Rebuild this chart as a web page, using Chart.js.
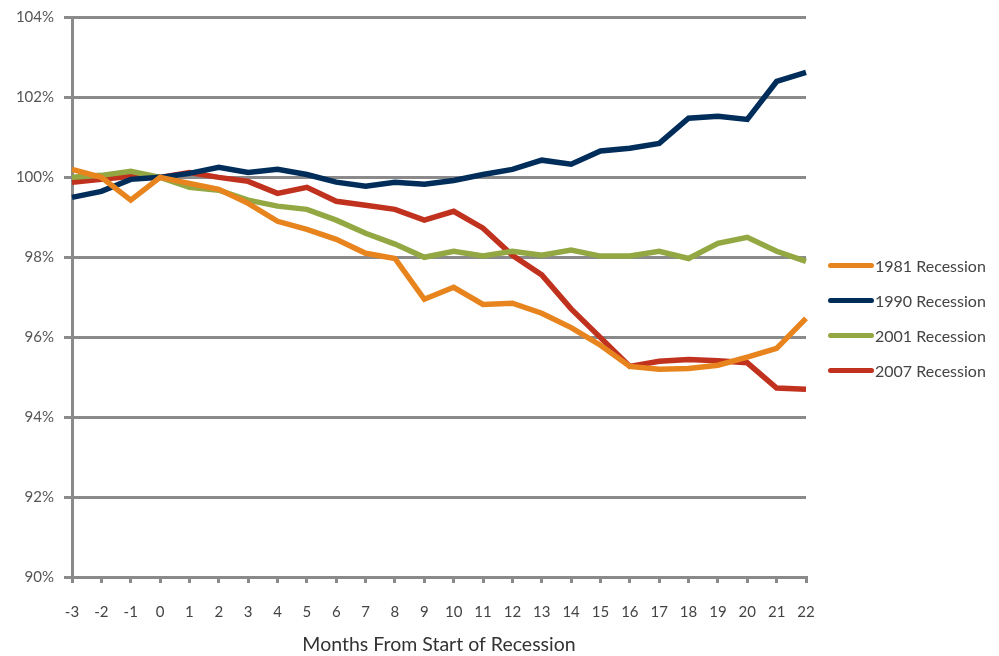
<!DOCTYPE html>
<html>
<head>
<meta charset="utf-8">
<script src="https://cdn.jsdelivr.net/npm/chart.js@4/dist/chart.umd.min.js"></script>
<style>
  html, body { margin: 0; padding: 0; background: #fff; }
  #wrap { position: relative; width: 999px; height: 656px; }
  #legend { position: absolute; left: 828px; top: 248px; font-family: Lato, sans-serif; font-size: 16px; color: #444; }
  .item { display: flex; align-items: center; height: 35px; }
  .swatch { width: 46px; height: 5px; border-radius: 3px; margin-right: 1px; }
</style>
</head>
<body>
<div id="wrap">
  <canvas id="chart" width="999" height="656"></canvas>
  <div id="legend"></div>
</div>
<script>
// months from start of recession
const months = ['-3', '-2', '-1', '0', '1', '2', '3', '4', '5', '6', '7', '8', '9', '10',
                '11', '12', '13', '14', '15', '16', '17', '18', '19', '20', '21', '22'];

const rec1981 = [100.2, 100.0, 99.43, 100.0, 99.85, 99.7, 99.35, 98.9, 98.7, 98.45, 98.1, 97.97, 96.95,
                 97.25, 96.82, 96.85, 96.6, 96.24, 95.8, 95.27, 95.2, 95.22, 95.3, 95.5, 95.72, 96.47];
const rec1990 = [99.5, 99.65, 99.95, 100.0, 100.1, 100.25, 100.12, 100.2, 100.07, 99.88, 99.78, 99.88, 99.83,
                 99.92, 100.07, 100.2, 100.43, 100.33, 100.66, 100.73, 100.85, 101.48, 101.53, 101.45, 102.4, 102.63];
const rec2001 = [100.0, 100.05, 100.15, 100.0, 99.75, 99.68, 99.43, 99.28, 99.2, 98.93, 98.6, 98.33, 98.0,
                 98.15, 98.03, 98.15, 98.05, 98.18, 98.03, 98.03, 98.15, 97.97, 98.35, 98.5, 98.15, 97.9];
const rec2007 = [99.88, 99.95, 100.03, 100.0, 100.12, 100.0, 99.9, 99.6, 99.75, 99.4, 99.3, 99.2, 98.93,
                 99.15, 98.73, 98.05, 97.56, 96.71, 95.99, 95.27, 95.4, 95.44, 95.41, 95.36, 94.73, 94.7];

const seriesNames = ['1981 Recession', '1990 Recession', '2001 Recession', '2007 Recession'];
const seriesColors = ['#E8841E', '#002D5A', '#93A843', '#C0311E'];
const seriesValues = [rec1981, rec1990, rec2001, rec2007];

const gridGray = '#8a8a8a';

const datasets = seriesNames.map((name, i) => ({
    label: name,
    data: seriesValues[i],
    borderColor: seriesColors[i],
    backgroundColor: seriesColors[i],
    borderWidth: 5.5,
    pointRadius: 0,
    tension: 0,
    fill: false
}));

// legend on the right
const legendBox = document.getElementById('legend');
seriesNames.forEach((name, i) => {
    const row = document.createElement('div');
    row.className = 'item';
    row.innerHTML = `<span class="swatch" style="background:${seriesColors[i]}"></span><span>${name}</span>`;
    legendBox.appendChild(row);
});

const ctx = document.getElementById('chart').getContext('2d');
new Chart(ctx, {
    type: 'line',
    data: { labels: months, datasets: datasets },
    options: {
        responsive: false,
        animation: false,
        layout: { padding: { top: 12, right: 193, left: 0, bottom: 0 } },
        plugins: {
            legend: { display: false },
            tooltip: { enabled: false }
        },
        scales: {
            x: {
                offset: false,
                grid: { display: true, drawOnChartArea: false, color: gridGray, lineWidth: 3, tickLength: 6 },
                border: { color: gridGray, width: 3 },
                ticks: { color: '#444', font: { family: 'Lato', size: 15 }, padding: 20, maxRotation: 0, autoSkip: false },
                title: {
                    display: true,
                    text: 'Months From Start of Recession',
                    color: '#333',
                    font: { family: 'Lato', size: 19.5 },
                    padding: { top: 14, bottom: 0 }
                },
                afterFit: s => { s.height = 79; }
            },
            y: {
                min: 90,
                max: 104,
                ticks: {
                    stepSize: 2,
                    color: '#555',
                    font: { family: 'Lato', size: 15, lineHeight: 1 },
                    padding: 10,
                    callback: v => v + '%'
                },
                grid: { color: gridGray, lineWidth: 3, tickLength: 8 },
                border: { color: gridGray, width: 3 },
                afterFit: s => { s.width = 72; }
            }
        }
    }
});
</script>
</body>
</html>
